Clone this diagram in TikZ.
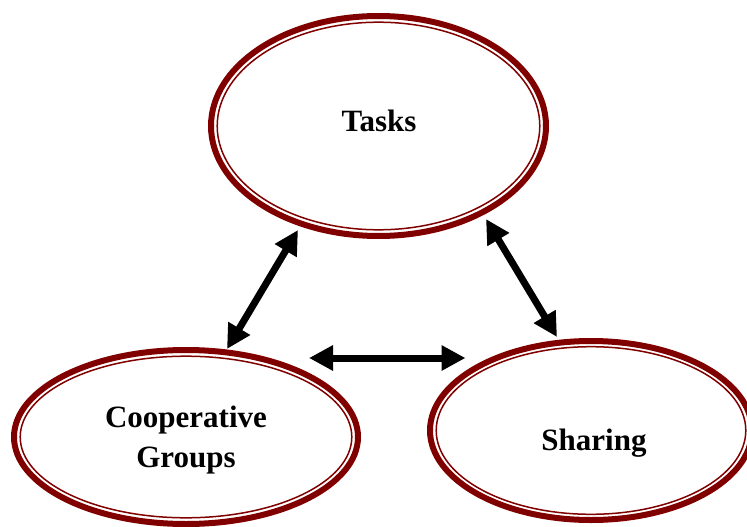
\documentclass[tikz,border=0pt]{standalone}
\usepackage{fontspec}
\setmainfont{Liberation Serif}
\usetikzlibrary{shapes.geometric,arrows.meta}
\definecolor{ringred}{RGB}{128,0,0}
\tikzset{
  ring/.style={ellipse, draw=ringred, line width=6pt, inner sep=0pt, outer sep=0pt},
  innerring/.style={draw=ringred, line width=1.5pt},
  lbl/.style={font=\fontsize{31}{40}\selectfont\bfseries, inner sep=0pt, align=center},
  link/.style={line width=7pt, {Triangle[length=24pt,width=24pt]}-{Triangle[length=24pt,width=24pt]}}
}
\begin{document}
\begin{tikzpicture}[x=1pt,y=-1pt]
\useasboundingbox (0,0) rectangle (747,527);
\begin{scope}
\clip (0,0) rectangle (747,527);
% Tasks
\node[ring, minimum width=335pt, minimum height=220pt] (tasks) at (378.5,126) {};
\draw[innerring] (tasks.center) ellipse [x radius=161.3, y radius=103.8];
% Cooperative Groups
\node[ring, minimum width=344pt, minimum height=174pt] (coop) at (186,437) {};
\draw[innerring] (coop.center) ellipse [x radius=165.8, y radius=80.8];
% Sharing
\node[ring, minimum width=322pt, minimum height=179pt] (sharing) at (591,430.5) {};
\draw[innerring] (sharing.center) ellipse [x radius=154.8, y radius=83.8];
\end{scope}
\node[lbl, anchor=base] (tasksT) at (379,131) {Tasks};
\node[lbl, anchor=center] (coopT) at (186,440) {Cooperative\\Groups};
\node[lbl, anchor=base] (sharingT) at (594,450) {Sharing};
% arrow ends
\coordinate (a1t) at (298,230);
\coordinate (a1b) at (227,349);
\coordinate (a2t) at (486,219);
\coordinate (a2b) at (557,337);
\coordinate (a3l) at (309,358);
\coordinate (a3r) at (465.5,358);
\draw[link] (a1t) -- (a1b);
\draw[link] (a2t) -- (a2b);
\draw[link] (a3l) -- (a3r);
\end{tikzpicture}
\end{document}
